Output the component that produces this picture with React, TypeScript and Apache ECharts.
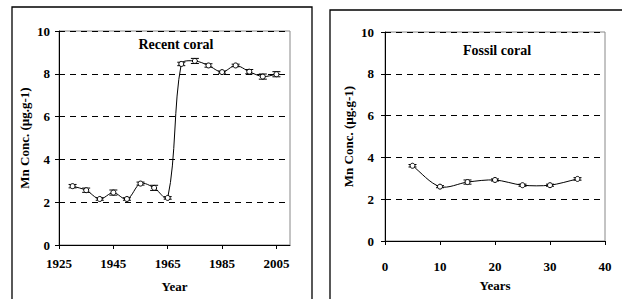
import React, { useEffect, useRef } from "react";
import * as echarts from "echarts";

const recentYears = [1930, 1935, 1940, 1945, 1950, 1955, 1960, 1965, 1970, 1975, 1980, 1985, 1990, 1995, 2000, 2005];
const recentValues = [2.75, 2.56, 2.15, 2.45, 2.15, 2.87, 2.67, 2.2, 8.46, 8.6, 8.39, 8.08, 8.39, 8.1, 7.87, 7.98];
const recentErrors = [0.08, 0.1, 0.06, 0.12, 0.06, 0.07, 0.12, 0.06, 0.08, 0.12, 0.08, 0.05, 0.06, 0.1, 0.12, 0.12];

const fossilYears = [5, 10, 15, 20, 25, 30, 35];
const fossilValues = [3.6, 2.6, 2.82, 2.92, 2.67, 2.67, 2.97];
const fossilErrors = [0.06, 0.05, 0.1, 0.05, 0.05, 0.05, 0.06];

const recentTicks = [1925, 1945, 1965, 1985, 2005];

const FONT = "Liberation Serif";

function errorBarSeries(idx: number, xs: number[], vs: number[], es: number[]) {
  return {
    type: "custom",
    xAxisIndex: idx,
    yAxisIndex: idx,
    z: 3,
    data: xs.map((x, i) => [x, vs[i] - es[i], vs[i] + es[i]]),
    renderItem: (params: any, api: any) => {
      const lo = api.coord([api.value(0), api.value(1)]);
      const hi = api.coord([api.value(0), api.value(2)]);
      const w = 4;
      const style = { stroke: "#000", lineWidth: 1 };
      return {
        type: "group",
        children: [
          { type: "line", shape: { x1: lo[0], y1: lo[1], x2: hi[0], y2: hi[1] }, style },
          { type: "line", shape: { x1: lo[0] - w, y1: lo[1], x2: lo[0] + w, y2: lo[1] }, style },
          { type: "line", shape: { x1: hi[0] - w, y1: hi[1], x2: hi[0] + w, y2: hi[1] }, style },
        ],
      };
    },
  };
}

function unit(a: number[], b: number[]) {
  const dx = b[0] - a[0];
  const dy = b[1] - a[1];
  const l = Math.hypot(dx, dy) || 1;
  return [dx / l, dy / l];
}

// Excel-style smoothed line drawn through the axis scales
function smoothLineSeries(idx: number, xs: number[], vs: number[]) {
  const s = 0.3;
  return {
    type: "custom",
    xAxisIndex: idx,
    yAxisIndex: idx,
    z: 2,
    silent: true,
    data: [[xs[0], vs[0]]],
    renderItem: (params: any, api: any) => {
      const p = xs.map((x, i) => api.coord([x, vs[i]]));
      const n = p.length;
      let d = `M${p[0][0]},${p[0][1]}`;
      for (let i = 0; i < n - 1; i++) {
        const p0 = p[Math.max(0, i - 1)];
        const p1 = p[i];
        const p2 = p[i + 1];
        const p3 = p[Math.min(n - 1, i + 2)];
        const seg = Math.hypot(p2[0] - p1[0], p2[1] - p1[1]);
        const t1 = unit(p0, p2);
        const t2 = unit(p1, p3);
        const arm = seg * s;
        const c1x = p1[0] + t1[0] * arm;
        const c1y = p1[1] + t1[1] * arm;
        const c2x = p2[0] - t2[0] * arm;
        const c2y = p2[1] - t2[1] * arm;
        d += ` C${c1x},${c1y} ${c2x},${c2y} ${p2[0]},${p2[1]}`;
      }
      return {
        type: "path",
        shape: { pathData: d },
        style: { fill: "none", stroke: "#000", lineWidth: 1 },
      };
    },
  };
}

function markerSeries(idx: number, xs: number[], vs: number[]) {
  return {
    type: "scatter",
    xAxisIndex: idx,
    yAxisIndex: idx,
    z: 4,
    data: xs.map((x, i) => [x, vs[i]]),
    symbol: "circle",
    symbolSize: 5,
    itemStyle: { color: "#fff", borderColor: "#000", borderWidth: 1, opacity: 1 },
  };
}

export default function App() {
  const ref = useRef<HTMLDivElement>(null);
  useEffect(() => {
    if (!ref.current) return;
    const chart = echarts.init(ref.current, undefined, { renderer: "svg" });
    const labelStyle = { fontFamily: FONT, fontWeight: "bold" as const, fontSize: 13, color: "#000" };
    const yAxisBase = (gi: number, margin: number, gap: number) => ({
      type: "value",
      gridIndex: gi,
      min: 0,
      max: 10,
      interval: 2,
      name: "Mn Conc. (µg.g-1)",
      nameLocation: "middle",
      nameGap: gap,
      nameTextStyle: { ...labelStyle, fontSize: 13 },
      axisLine: { show: true, lineStyle: { color: "#000", width: 1 } },
      axisTick: { show: true, length: 4, lineStyle: { color: "#000" } },
      axisLabel: { ...labelStyle, margin },
      splitLine: { show: true, lineStyle: { color: "#000", type: [6, 5], width: 1 } },
    });
    chart.setOption({
      animation: false,
      backgroundColor: "#fff",
      graphic: [
        { type: "rect", shape: { x: 12, y: 7, width: 300, height: 320 }, style: { fill: "none", stroke: "#000", lineWidth: 1.3 }, z: 10 },
        { type: "rect", shape: { x: 330, y: 10, width: 320, height: 320 }, style: { fill: "none", stroke: "#000", lineWidth: 1.3 }, z: 10 },
      ],
      title: [
        { text: "Recent coral", left: 171, top: 32, textAlign: "center", textStyle: { ...labelStyle, fontSize: 14 } },
        { text: "Fossil coral", left: 492, top: 38, textAlign: "center", textStyle: { ...labelStyle, fontSize: 14 } },
      ],
      grid: [
        { left: 59, top: 31, width: 231, height: 214, show: true, borderColor: "#888", borderWidth: 1, backgroundColor: "transparent" },
        { left: 385, top: 32, width: 220, height: 209, show: true, borderColor: "#888", borderWidth: 1, backgroundColor: "transparent" },
      ],
      xAxis: [
        {
          type: "value",
          gridIndex: 0,
          min: 1925,
          max: 2010,
          name: "Year",
          nameLocation: "middle",
          nameGap: 35,
          nameTextStyle: labelStyle,
          axisLine: { show: true, onZero: false, lineStyle: { color: "#000", width: 1 } },
          axisTick: { show: true, length: 4, customValues: recentTicks, lineStyle: { color: "#000" } },
          axisLabel: { ...labelStyle, margin: 12, customValues: recentTicks, formatter: (v: number) => String(v) },
          splitLine: { show: false },
        },
        {
          type: "value",
          gridIndex: 1,
          min: 0,
          max: 40,
          interval: 10,
          name: "Years",
          nameLocation: "middle",
          nameGap: 38,
          nameTextStyle: labelStyle,
          axisLine: { show: true, onZero: false, lineStyle: { color: "#000", width: 1 } },
          axisTick: { show: true, length: 4, lineStyle: { color: "#000" } },
          axisLabel: { ...labelStyle, margin: 19 },
          splitLine: { show: false },
        },
      ],
      yAxis: [yAxisBase(0, 9, 28), yAxisBase(1, 11, 30)],
      series: [
        smoothLineSeries(0, recentYears, recentValues),
        errorBarSeries(0, recentYears, recentValues, recentErrors),
        markerSeries(0, recentYears, recentValues),
        smoothLineSeries(1, fossilYears, fossilValues),
        errorBarSeries(1, fossilYears, fossilValues, fossilErrors),
        markerSeries(1, fossilYears, fossilValues),
      ],
    });
    return () => chart.dispose();
  }, []);
  return <div ref={ref} style={{ position: "fixed", left: 0, top: 0, width: 622, height: 299 }} />;
}
